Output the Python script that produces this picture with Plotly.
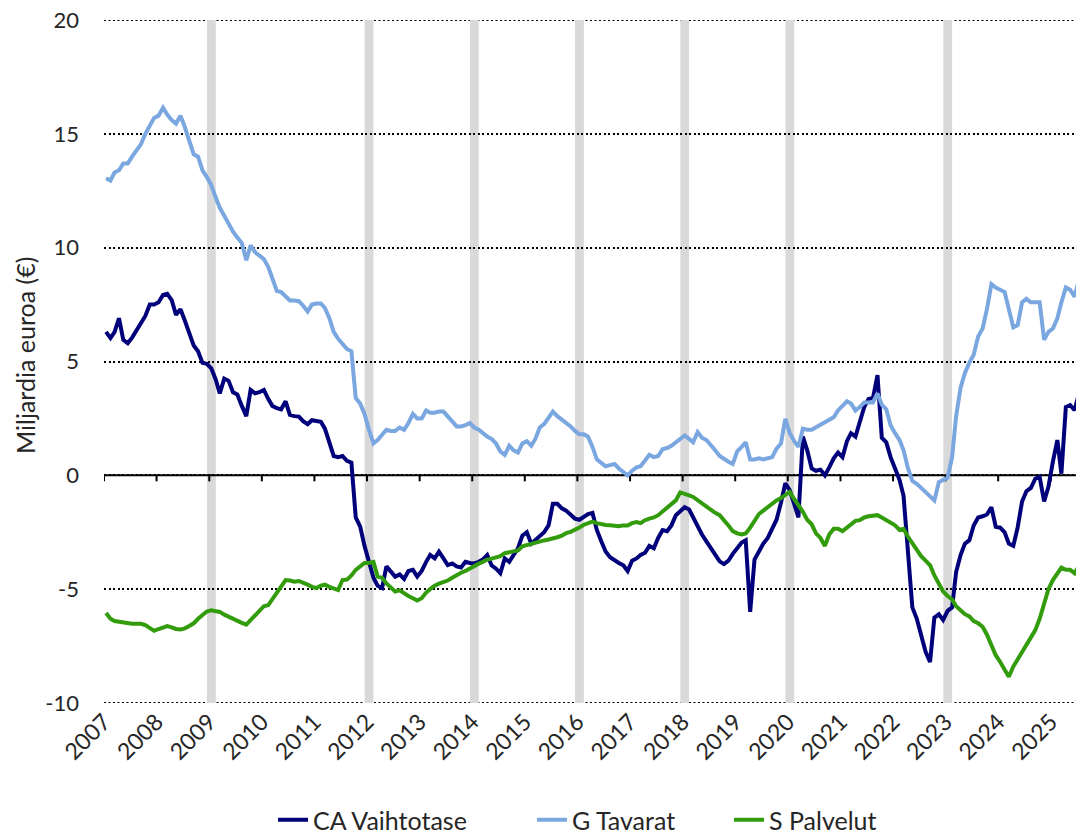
import pandas as pd
import plotly.graph_objects as go

# ---------------- data (monthly, Jan 2007 - Aug 2025), billions of euro ----------------
ca_vaihtotase = [
    6.3, 6.03, 6.29, 6.9, 5.95, 5.8, 6.05, 6.35, 6.7, 7.0, 7.5, 7.5,              # 2007
    7.6, 7.92, 7.97, 7.7, 7.05, 7.3, 6.8, 6.2, 5.7, 5.45, 4.94, 4.9,              # 2008
    4.7, 4.2, 3.6, 4.25, 4.15, 3.65, 3.55, 3.05, 2.6, 3.75, 3.6, 3.65,            # 2009
    3.75, 3.35, 3.05, 2.95, 2.9, 3.25, 2.66, 2.6, 2.58, 2.38, 2.25, 2.42,         # 2010
    2.4, 2.35, 2.05, 1.4, 0.85, 0.8, 0.85, 0.64, 0.56, -1.85, -2.25, -3.1,        # 2011
    -3.85, -4.5, -4.85, -4.95, -4.0, -4.25, -4.45, -4.35, -4.55, -4.2, -4.15, -4.45,  # 2012
    -4.2, -3.8, -3.5, -3.65, -3.35, -3.65, -3.94, -3.87, -4.0, -4.05, -3.8, -3.85,    # 2013
    -3.87, -3.8, -3.7, -3.5, -3.95, -4.1, -4.3, -3.65, -3.8, -3.5, -3.2, -2.65,       # 2014
    -2.5, -3.0, -2.85, -2.65, -2.5, -2.2, -1.25, -1.25, -1.45, -1.55, -1.7, -1.9,     # 2015
    -1.95, -1.8, -1.7, -1.65, -2.4, -2.9, -3.35, -3.6, -3.75, -3.85, -3.95, -4.2,     # 2016
    -3.75, -3.65, -3.5, -3.4, -3.1, -3.2, -2.75, -2.4, -2.45, -2.2, -1.75, -1.55,     # 2017
    -1.4, -1.5, -1.85, -2.3, -2.6, -2.9, -3.2, -3.55, -3.78, -3.9, -3.75, -3.45,      # 2018
    -3.2, -2.95, -2.85, -6.0, -3.7, -3.35, -3.0, -2.75, -2.35, -1.95, -1.2, -0.35,    # 2019
    -0.65, -1.3, -1.85, 1.7, 1.1, 0.3, 0.2, 0.25, 0.0, 0.35, 0.75, 1.0,               # 2020
    0.8, 1.5, 1.85, 1.7, 2.3, 3.0, 3.35, 3.4, 4.4, 1.65, 1.45, 0.8,                   # 2021
    0.3, -0.2, -0.9, -3.7, -5.8, -6.3, -7.1, -7.75, -8.2, -6.25, -6.1, -6.35,         # 2022
    -5.95, -5.8, -4.25, -3.5, -3.0, -2.85, -2.2, -1.85, -1.8, -1.72, -1.4, -2.26,     # 2023
    -2.3, -2.5, -3.0, -3.1, -2.3, -1.15, -0.7, -0.55, -0.15, -0.07, -1.15, -0.5,      # 2024
    0.6, 1.55, 0.07, 3.0, 3.08, 2.86, 3.6, 3.15,                                      # 2025
]

g_tavarat = [
    13.05, 12.95, 13.3, 13.4, 13.7, 13.7, 14.0, 14.3, 14.55, 15.0, 15.4, 15.7,    # 2007
    15.8, 16.15, 15.85, 15.6, 15.45, 15.8, 15.3, 14.75, 14.1, 14.0, 13.4, 13.1,   # 2008
    12.75, 12.2, 11.75, 11.4, 11.05, 10.7, 10.45, 10.2, 9.45, 10.1, 9.8, 9.65,    # 2009
    9.5, 9.15, 8.6, 8.1, 8.05, 7.85, 7.68, 7.68, 7.65, 7.45, 7.2, 7.5,            # 2010
    7.55, 7.55, 7.35, 6.9, 6.3, 6.0, 5.8, 5.55, 5.45, 3.4, 3.15, 2.7,             # 2011
    2.0, 1.4, 1.55, 1.75, 2.0, 1.95, 1.95, 2.1, 2.0, 2.3, 2.7, 2.5,               # 2012
    2.5, 2.85, 2.75, 2.75, 2.8, 2.8, 2.6, 2.4, 2.15, 2.15, 2.2, 2.3,              # 2013
    2.1, 2.0, 1.85, 1.7, 1.6, 1.4, 1.05, 0.9, 1.3, 1.1, 1.0, 1.4,                 # 2014
    1.5, 1.3, 1.6, 2.1, 2.25, 2.5, 2.8, 2.6, 2.45, 2.35, 2.15, 1.95,              # 2015
    1.8, 1.8, 1.7, 1.25, 0.7, 0.55, 0.4, 0.45, 0.5, 0.3, 0.15, 0.0,               # 2016
    0.2, 0.35, 0.4, 0.65, 0.9, 0.8, 0.85, 1.15, 1.2, 1.3, 1.45, 1.6,              # 2017
    1.75, 1.6, 1.45, 1.9, 1.65, 1.55, 1.35, 1.1, 0.85, 0.7, 0.6, 0.5,             # 2018
    1.05, 1.25, 1.45, 0.7, 0.7, 0.75, 0.7, 0.75, 0.8, 1.17, 1.4, 2.48,            # 2019
    1.85, 1.5, 1.25, 2.05, 2.0, 2.0, 2.1, 2.25, 2.35, 2.45, 2.55, 2.85,           # 2020
    3.05, 3.25, 3.15, 2.85, 3.0, 3.2, 3.2, 3.2, 3.6, 3.1, 2.9, 2.2,               # 2021
    1.85, 1.55, 1.1, 0.3, -0.25, -0.37, -0.55, -0.75, -0.95, -1.1, -0.3, -0.18,   # 2022
    -0.1, 0.8, 2.6, 3.85, 4.5, 4.95, 5.3, 6.1, 6.45, 7.3, 8.4, 8.25,              # 2023
    8.15, 8.05, 7.3, 6.5, 6.6, 7.6, 7.75, 7.6, 7.6, 7.6, 5.95, 6.3,               # 2024
    6.45, 6.9, 7.6, 8.25, 8.15, 7.85, 8.6, 8.4,                                   # 2025
]

s_palvelut = [
    -6.05, -6.3, -6.4, -6.44, -6.48, -6.5, -6.52, -6.52, -6.52, -6.58, -6.72, -6.83,  # 2007
    -6.75, -6.68, -6.62, -6.68, -6.75, -6.77, -6.72, -6.62, -6.5, -6.3, -6.15, -5.98, # 2008
    -5.93, -5.95, -6.0, -6.12, -6.22, -6.32, -6.4, -6.48, -6.56, -6.35, -6.15, -5.95, # 2009
    -5.75, -5.7, -5.45, -5.1, -4.85, -4.6, -4.62, -4.67, -4.64, -4.7, -4.8, -4.9,     # 2010
    -4.95, -4.85, -4.8, -4.9, -4.97, -5.04, -4.6, -4.58, -4.4, -4.15, -4.0, -3.85,    # 2011
    -3.85, -3.8, -4.45, -4.5, -4.75, -4.95, -5.1, -5.05, -5.2, -5.3, -5.4, -5.5,      # 2012
    -5.4, -5.15, -5.0, -4.85, -4.76, -4.7, -4.62, -4.5, -4.38, -4.28, -4.2, -4.08,    # 2013
    -3.98, -3.88, -3.8, -3.7, -3.66, -3.6, -3.55, -3.42, -3.37, -3.34, -3.3, -3.12,   # 2014
    -3.06, -3.04, -2.98, -2.91, -2.86, -2.82, -2.79, -2.72, -2.65, -2.54, -2.48, -2.4,# 2015
    -2.29, -2.17, -2.08, -2.03, -2.1, -2.15, -2.18, -2.19, -2.21, -2.24, -2.2, -2.2,  # 2016
    -2.1, -2.05, -2.1, -1.97, -1.9, -1.85, -1.75, -1.6, -1.45, -1.3, -1.1, -0.75,     # 2017
    -0.8, -0.88, -0.95, -1.1, -1.25, -1.4, -1.5, -1.65, -1.75, -1.95, -2.2, -2.45,    # 2018
    -2.55, -2.6, -2.55, -2.3, -2.0, -1.7, -1.55, -1.4, -1.2, -1.1, -1.0, -0.88,       # 2019
    -0.73, -1.05, -1.3, -1.6, -1.95, -2.15, -2.55, -2.75, -3.1, -2.6, -2.35, -2.35,   # 2020
    -2.45, -2.3, -2.15, -2.0, -1.97, -1.85, -1.8, -1.77, -1.75, -1.85, -1.97, -2.05,  # 2021
    -2.2, -2.4, -2.35, -2.7, -3.0, -3.3, -3.55, -3.75, -3.95, -4.4, -4.8, -5.1,       # 2022
    -5.3, -5.45, -5.75, -5.95, -6.1, -6.2, -6.4, -6.5, -6.65, -7.0, -7.45, -7.9,      # 2023
    -8.2, -8.55, -8.85, -8.4, -8.1, -7.8, -7.5, -7.15, -6.8, -6.3, -5.6, -5.0,        # 2024
    -4.6, -4.3, -4.05, -4.15, -4.15, -4.3, -3.98, -4.45,                              # 2025
]

first_month = "2007-01-01"
tick_years = list(range(2007, 2026))
band_years = [2009, 2012, 2014, 2016, 2018, 2020, 2023]
y_ticks = [-10, -5, 0, 5, 10, 15, 20]
y_tick_text = ["-10", "-5", "0", "5", "10", "15", "20"]

series_names = ["CA Vaihtotase", "G Tavarat", "S Palvelut"]
series_colors = ["#00007A", "#7BA7E0", "#339C0C"]

# ---------------- figure ----------------
n = len(ca_vaihtotase)
months = pd.date_range(start=first_month, periods=n, freq="MS") + pd.Timedelta(days=14)

FONT = "Lato, 'Open Sans', sans-serif"
TXT = "#262626"
GRID_DASH = "2px,2.5px"

# plot area in window pixels: x 104..1084, y 20..703
PL, PR, PT, PB = 104, 1084, 20, 703
def px_x(p):
    return (p - PL) / (PR - PL)
def px_y(p):
    return (PB - p) / (PB - PT)

legend_ids = ["legend", "legend2", "legend3"]
legend_left = [273, 532, 729]   # left edge of each legend entry (window px)

fig = go.Figure()
for name, vals, col, lid in zip(series_names, [ca_vaihtotase, g_tavarat, s_palvelut],
                                series_colors, legend_ids):
    fig.add_trace(go.Scatter(
        x=months, y=vals, mode="lines", name=name, legend=lid,
        line=dict(color=col, width=4),
        hoverinfo="skip",
    ))

shapes = []
# dotted gridlines at the two range ends (plotly drops grid lines at the very edges)
for yv in (y_ticks[0], y_ticks[-1]):
    shapes.append(dict(type="line", xref="paper", yref="y", x0=0, x1=1, y0=yv, y1=yv,
                       line=dict(color="black", width=2, dash=GRID_DASH), layer="below"))
for yr in band_years:
    start = pd.Timestamp(f"{yr}-01-01")
    shapes.append(dict(
        type="rect", xref="x", yref="paper",
        x0=start - pd.Timedelta(days=16), x1=start + pd.Timedelta(days=45),
        y0=0, y1=1, fillcolor="#D9D9D9", line=dict(width=0), layer="between",
    ))
# horizontal axis line at zero
shapes.append(dict(type="line", xref="paper", yref="y", x0=0, x1=1, y0=0, y1=0,
                   line=dict(color="black", width=2), layer="between"))
# tick marks on the zero line
for yr in tick_years:
    t = pd.Timestamp(f"{yr}-01-01")
    shapes.append(dict(type="line", xref="x", yref="y", x0=t, x1=t,
                       ysizemode="pixel", yanchor=0, y0=0, y1=-6,
                       line=dict(color="black", width=2), layer="between"))

legend_cfg = {}
for lid, left in zip(legend_ids, legend_left):
    legend_cfg[lid] = dict(
        orientation="h", x=px_x(left), xanchor="left", y=px_y(820), yanchor="middle",
        font=dict(family=FONT, size=25, color=TXT),
        bgcolor="rgba(0,0,0,0)", borderwidth=0,
    )

# the page body has an 8px default margin: size the figure so the plot lands
# at x 104..1084, y 20..703 of the 1084x833 window
fig.update_layout(
    width=1076, height=825,
    margin=dict(l=96, r=0, t=12, b=130, autoexpand=False),
    paper_bgcolor="white", plot_bgcolor="white",
    font=dict(family=FONT, size=22, color=TXT),
    shapes=shapes,
    showlegend=True,
    annotations=[dict(
        text="Miljardia euroa (€)", textangle=-90,
        xref="paper", yref="paper", x=px_x(25), y=px_y(356),
        xanchor="center", yanchor="middle", showarrow=False,
        font=dict(family=FONT, size=25, color=TXT),
    )],
    xaxis=dict(
        type="date",
        range=[first_month, "2025-08-19"],
        tickmode="array",
        tickvals=[pd.Timestamp(f"{y}-01-01") for y in tick_years],
        ticktext=[str(y) for y in tick_years],
        tickangle=-45,
        showgrid=False, zeroline=False, showline=False, ticks="",
        automargin=False, ticklabeloverflow="allow",
        tickfont=dict(family=FONT, size=23, color=TXT),
    ),
    yaxis=dict(
        range=[y_ticks[0] - 0.0005, y_ticks[-1] + 0.0005],
        tickmode="array", tickvals=y_ticks, ticktext=y_tick_text,
        showgrid=True, gridcolor="black", gridwidth=2, griddash=GRID_DASH,
        zeroline=False, showline=False, ticks="",
        ticklabelstandoff=24, automargin=False, ticklabeloverflow="allow",
        tickfont=dict(family=FONT, size=22, color=TXT),
    ),
    **legend_cfg,
)

fig.write_html("out.html")
